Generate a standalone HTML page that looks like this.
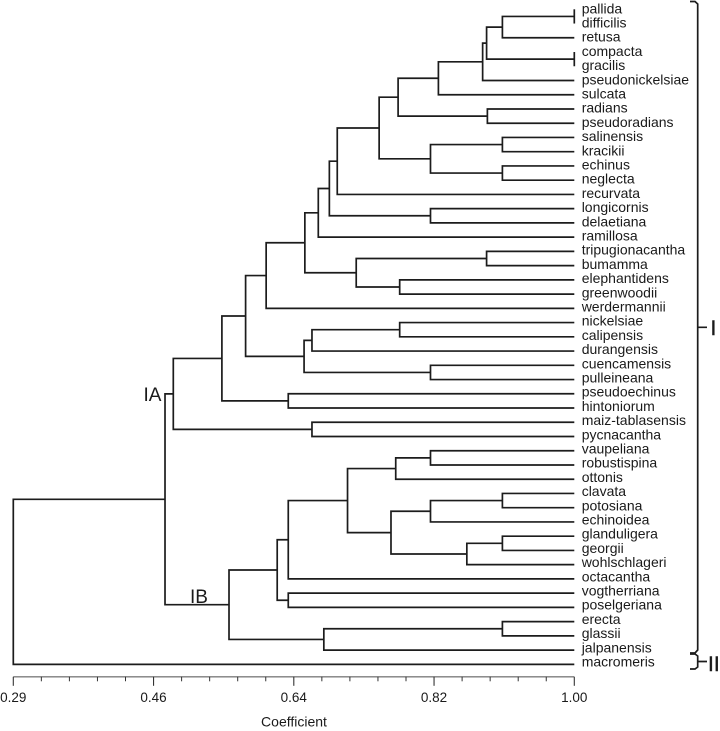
<!DOCTYPE html>
<html lang="en">
<head>
<meta charset="utf-8">
<title>Species dendrogram</title>
<style>
  html, body { margin: 0; padding: 0; background: #fff; }
  svg { display: block; font-family: "Liberation Sans", Arial, sans-serif; }
  text { fill: #1a1a1a; }
  .branch { fill: none; stroke: #1c1c1c; stroke-width: 1.7; stroke-linejoin: miter; }
  .bracket { fill: none; stroke: #1c1c1c; stroke-width: 1.7; }
</style>
</head>
<body>
<svg id="chart" width="720" height="731" viewBox="0 0 720 731" xmlns="http://www.w3.org/2000/svg">
  <g id="branches"></g>
  <g id="labels"></g>
  <g id="axis"></g>
  <text x="294" y="726.5" font-size="14" text-anchor="middle">Coefficient</text>
  <text x="143.5" y="401" font-size="19">IA</text>
  <text x="190" y="603" font-size="19">IB</text>
  <path class="bracket" d="M690 1.5 H695 L697.7 4 V650 L695 653 H690 M697.7 327.3 H707"></path>
  <text x="710.5" y="335" font-size="21" stroke="#1a1a1a" stroke-width="0.4">I</text>
  <path class="bracket" d="M690 654 H695 L697.7 656 V667 L695 669 H690 M697.7 661.5 H707"></path>
  <text x="708" y="671" font-size="21" stroke="#1a1a1a" stroke-width="0.4">II</text>
</svg>
<script>
// Leaf taxa, top to bottom
const leaves = ["pallida","difficilis","retusa","compacta","gracilis","pseudonickelsiae","sulcata","radians","pseudoradians","salinensis","kracikii","echinus","neglecta","recurvata","longicornis","delaetiana","ramillosa","tripugionacantha","bumamma","elephantidens","greenwoodii","werdermannii","nickelsiae","calipensis","durangensis","cuencamensis","pulleineana","pseudoechinus","hintoniorum","maiz-tablasensis","pycnacantha","vaupeliana","robustispina","ottonis","clavata","potosiana","echinoidea","glanduligera","georgii","wohlschlageri","octacantha","vogtherriana","poselgeriana","erecta","glassii","jalpanensis","macromeris"];

// Merges: ids below leaves.length are leaves; merge k has id leaves.length + k
const mergeLeft  = [0,47,3,48,50,51,7,52,9,11,55,54,58,14,59,61,17,19,63,62,66,22,68,25,69,67,27,72,29,74,31,77,34,79,37,81,80,78,84,41,85,43,88,87,76,91];
const mergeRight = [1,2,4,49,5,6,8,53,10,12,56,57,13,15,60,16,18,20,64,65,21,23,24,26,70,71,28,73,30,75,32,33,35,36,38,39,82,83,40,42,86,44,45,89,90,46];
const mergeCoefficient = [1.00,0.909,1.00,0.889,0.884,0.828,0.890,0.777,0.909,0.909,0.818,0.753,0.700,0.818,0.690,0.676,0.889,0.779,0.724,0.659,0.610,0.779,0.668,0.818,0.658,0.584,0.638,0.554,0.668,0.4925,0.818,0.774,0.909,0.818,0.909,0.864,0.768,0.713,0.638,0.638,0.624,0.909,0.683,0.563,0.482,0.29];

// Axis
const tickValues = [0.29,0.4675,0.645,0.8225,1.00];
const tickLabels = ["0.29","0.46","0.64","0.82","1.00"];
const minorPerMajor = 5;

const SVG_NS = "http://www.w3.org/2000/svg";
const xScale = v => 13.3 + (v - 0.29) / 0.71 * 561;
const yScale = i => 9.3 + i * 14.24;

const branches = document.getElementById("branches");
const labels = document.getElementById("labels");
const axis = document.getElementById("axis");

const nodeX = [];
const nodeY = [];
leaves.forEach((name, i) => {
  nodeX[i] = xScale(1.00);
  nodeY[i] = yScale(i);
  const t = document.createElementNS(SVG_NS, "text");
  t.setAttribute("x", 581.7);
  t.setAttribute("y", (13.3 + i * 14.2).toFixed(2));
  t.setAttribute("font-size", "14");
  
  
  t.textContent = name;
  labels.appendChild(t);
});

mergeCoefficient.forEach((c, k) => {
  const id = leaves.length + k;
  const a = mergeLeft[k];
  const b = mergeRight[k];
  const x = xScale(c);
  nodeX[id] = x;
  nodeY[id] = (nodeY[a] + nodeY[b]) / 2;
  const p = document.createElementNS(SVG_NS, "path");
  p.setAttribute("class", "branch");
  p.setAttribute("d", "M" + nodeX[a].toFixed(2) + " " + nodeY[a].toFixed(2) +
    " H" + x.toFixed(2) + " V" + nodeY[b].toFixed(2) + " H" + nodeX[b].toFixed(2));
  
  
  branches.appendChild(p);
});

const axisY = 676.8;
const baseline = document.createElementNS(SVG_NS, "line");
baseline.setAttribute("x1", xScale(tickValues[0]));
baseline.setAttribute("x2", xScale(tickValues[tickValues.length - 1]));
baseline.setAttribute("y1", axisY);
baseline.setAttribute("y2", axisY);
baseline.setAttribute("stroke", "#7d7d7d");
baseline.setAttribute("stroke-width", "1.3");


axis.appendChild(baseline);

tickValues.forEach((v, i) => {
  const maj = document.createElementNS(SVG_NS, "line");
  maj.setAttribute("x1", xScale(v));
  maj.setAttribute("x2", xScale(v));
  maj.setAttribute("y1", axisY);
  maj.setAttribute("y2", axisY + 9);
  maj.setAttribute("stroke", "#333");
  maj.setAttribute("stroke-width", "1.1");
  
  
  axis.appendChild(maj);

  const t = document.createElementNS(SVG_NS, "text");
  t.setAttribute("x", xScale(v));
  t.setAttribute("y", 702);
  t.setAttribute("font-size", "13.5");
  t.setAttribute("text-anchor", "middle");
  
  
  t.textContent = tickLabels[i];
  axis.appendChild(t);

  if (i < tickValues.length - 1) {
    for (let m = 1; m < minorPerMajor; m++) {
      const mv = v + (tickValues[i + 1] - v) * m / minorPerMajor;
      const minor = document.createElementNS(SVG_NS, "line");
      minor.setAttribute("x1", xScale(mv));
      minor.setAttribute("x2", xScale(mv));
      minor.setAttribute("y1", axisY);
      minor.setAttribute("y2", axisY + 4.5);
      minor.setAttribute("stroke", "#333");
      minor.setAttribute("stroke-width", "1");
      
      
      axis.appendChild(minor);
    }
  }
});
</script>
</body>
</html>
